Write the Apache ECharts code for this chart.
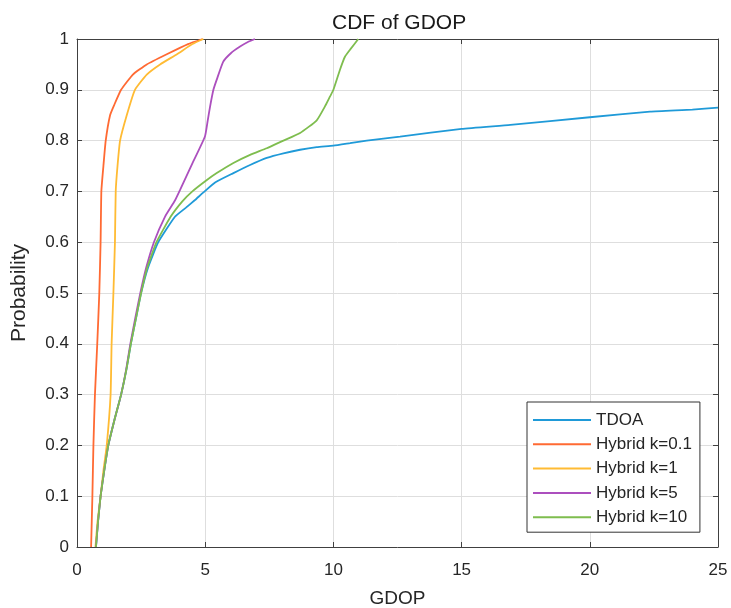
<!DOCTYPE html>
<html>
<head>
<meta charset="utf-8">
<script src="https://cdn.jsdelivr.net/npm/echarts@6/dist/echarts.min.js"></script>
<style>html,body{margin:0;padding:0;background:#fff}#c{width:731px;height:608px}</style>
</head>
<body>
<div id="c"></div>
<script>
// Data: [GDOP, probability]
const seriesNames = ['TDOA', 'Hybrid k=0.1', 'Hybrid k=1', 'Hybrid k=5', 'Hybrid k=10'];
const xTicks = [0, 5, 10, 15, 20, 25];
const yTicks = ['0', '0.1', '0.2', '0.3', '0.4', '0.5', '0.6', '0.7', '0.8', '0.9', '1'];

const tdoa = [[0.74,0],[0.82,0.05],[0.92,0.1],[1.06,0.15],[1.22,0.2],[1.46,0.25],[1.72,0.3],[1.93,0.35],[2.1,0.4],[2.3,0.45],[2.5,0.5],[2.77,0.55],[3.17,0.6],[3.82,0.65],[4.25,0.668],[4.6,0.683],[4.93,0.698],[5.4,0.718],[6.1,0.736],[6.75,0.752],[7.4,0.766],[8.05,0.775],[8.7,0.782],[9.35,0.787],[10,0.79],[10.65,0.795],[11.3,0.8],[12.6,0.808],[15,0.823],[16.9,0.831],[20,0.846],[22.35,0.857],[24,0.861],[25,0.865]];
const hybrid01 = [[0.55,0],[0.6,0.1],[0.64,0.2],[0.7,0.3],[0.79,0.4],[0.87,0.5],[0.92,0.6],[0.95,0.7],[1.03,0.75],[1.12,0.8],[1.29,0.85],[1.45,0.87],[1.72,0.9],[2.18,0.93],[2.72,0.95],[3.5,0.97],[4.33,0.99],[4.9,1.0]];
const hybrid1 = [[0.72,0],[0.8,0.05],[0.92,0.1],[1.03,0.15],[1.16,0.2],[1.31,0.3],[1.35,0.4],[1.42,0.5],[1.48,0.6],[1.51,0.7],[1.58,0.75],[1.68,0.8],[1.94,0.85],[2.26,0.9],[2.72,0.93],[3.24,0.95],[3.9,0.97],[4.5,0.99],[4.93,1.0]];
const hybrid5 = [[0.74,0],[0.82,0.05],[0.92,0.1],[1.06,0.15],[1.22,0.2],[1.46,0.25],[1.72,0.3],[1.92,0.35],[2.08,0.4],[2.27,0.45],[2.47,0.5],[2.7,0.55],[3.0,0.6],[3.43,0.65],[3.82,0.682],[4.02,0.703],[4.5,0.755],[4.99,0.808],[5.1,0.84],[5.19,0.867],[5.32,0.9],[5.45,0.92],[5.7,0.955],[6.0,0.972],[6.36,0.985],[6.7,0.995],[6.94,1.0]];
const hybrid10 = [[0.74,0],[0.82,0.05],[0.92,0.1],[1.06,0.15],[1.22,0.2],[1.46,0.25],[1.72,0.3],[1.93,0.35],[2.1,0.4],[2.3,0.45],[2.5,0.5],[2.74,0.55],[3.1,0.6],[3.65,0.65],[4.1,0.68],[4.5,0.7],[5.0,0.72],[5.45,0.736],[6.1,0.756],[6.75,0.772],[7.4,0.785],[8.05,0.8],[8.7,0.815],[9.35,0.84],[9.7,0.87],[9.87,0.887],[10.0,0.9],[10.26,0.94],[10.45,0.965],[10.65,0.979],[10.97,1.0]];
const allData = [tdoa, hybrid01, hybrid1, hybrid5, hybrid10];
const colors = ['#1F9AD8', '#FF6A33', '#FFBB33', '#AC4FBE', '#7EBD4E'];

const FONT = '"Liberation Sans", Arial, Helvetica, sans-serif';
const TXT = '#262626';
const chart = echarts.init(document.getElementById('c'), null, {renderer: 'canvas'});

function axisBase() {
  return {
    axisLine: {show: true, onZero: false, lineStyle: {color: '#404040', width: 1}},
    axisTick: {show: true, inside: true, length: 5, lineStyle: {color: '#404040'}}
  };
}

chart.setOption({
  animation: false,
  backgroundColor: '#fff',
  title: {
    text: 'CDF of GDOP', left: 327, top: 8,
    textStyle: {fontFamily: FONT, fontSize: 21, fontWeight: 'normal', color: '#1a1a1a'}
  },
  grid: {left: 77, right: 13, top: 39, bottom: 61, containLabel: false, outerBoundsMode: 'none'},
  legend: {
    orient: 'vertical', left: 527, top: 402,
    data: seriesNames, icon: 'rect', itemWidth: 58, itemHeight: 2, itemGap: 4.3,
    padding: [8, 8, 5, 6],
    backgroundColor: '#fff', borderColor: '#333', borderWidth: 1,
    textStyle: {fontFamily: FONT, fontSize: 17, color: TXT, lineHeight: 20},
    selectedMode: false
  },
  xAxis: [
    Object.assign({
      type: 'value', min: 0, max: 25, interval: 5, position: 'bottom',
      name: 'GDOP', nameLocation: 'middle', nameGap: 42,
      nameTextStyle: {fontFamily: FONT, fontSize: 19, color: TXT},
      axisLabel: {fontFamily: FONT, fontSize: 17, color: TXT, margin: 15,
        formatter: v => (xTicks.indexOf(v) >= 0 ? String(v) : '')},
      splitLine: {show: true, lineStyle: {color: '#dedede', width: 1}}
    }, axisBase()),
    Object.assign({
      type: 'value', min: 0, max: 25, interval: 5, position: 'top',
      axisLabel: {show: false}, splitLine: {show: false}
    }, axisBase())
  ],
  yAxis: [
    Object.assign({
      type: 'value', min: 0, max: 1, interval: 0.1, position: 'left',
      name: 'Probability', nameLocation: 'middle', nameGap: 47,
      nameTextStyle: {fontFamily: FONT, fontSize: 21, color: TXT},
      axisLabel: {fontFamily: FONT, fontSize: 17, color: TXT, margin: 8,
        formatter: v => yTicks[Math.round(v * 10)]},
      splitLine: {show: true, lineStyle: {color: '#dedede', width: 1}}
    }, axisBase()),
    Object.assign({
      type: 'value', min: 0, max: 1, interval: 0.1, position: 'right',
      axisLabel: {show: false}, splitLine: {show: false}
    }, axisBase())
  ],
  series: allData.map((d, i) => ({
    name: seriesNames[i], type: 'line', data: d,
    xAxisIndex: 0, yAxisIndex: 0,
    showSymbol: false, symbol: 'none', smooth: 0.15,
    lineStyle: {color: colors[i], width: 1.8},
    itemStyle: {color: colors[i]}
  }))
});
</script>
</body>
</html>
